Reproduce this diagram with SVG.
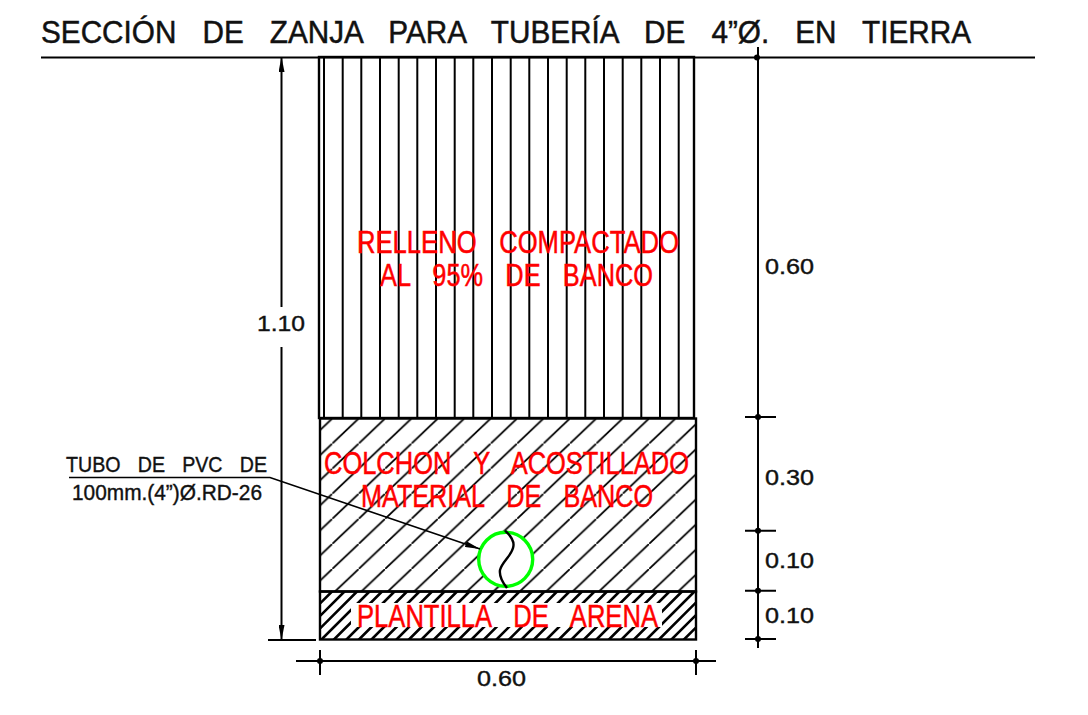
<svg xmlns="http://www.w3.org/2000/svg" width="1088" height="715" viewBox="0 0 1088 715">
<style>
text{font-family:"Liberation Sans",Arial,sans-serif;word-spacing:.6em}
.t{fill:#111;font-size:32px;stroke:#111;stroke-width:.5px}
.r{fill:#f00;font-size:32px;stroke:#f00;stroke-width:.5px}
.d{fill:#111;font-size:22px;stroke:#111;stroke-width:.4px}
.l{fill:#111;font-size:22px;stroke:#111;stroke-width:.4px}
.k{stroke:#000;fill:none;stroke-width:2}
.b{stroke:#000;fill:none;stroke-width:2.4}
.dot{fill:#000}
</style>
<defs>
<pattern id="hatchA" patternUnits="userSpaceOnUse" x="305.9" y="418.5" width="26.4" height="25.08">
<path d="M-1 26.03L27.4-.95" stroke="#000" stroke-width="1.8" fill="none"/>
</pattern>
<clipPath id="clipB"><rect x="320" y="591.5" width="376" height="48"/></clipPath>
<marker id="ah" viewBox="0 0 15 6" refX="15" refY="3" markerWidth="15" markerHeight="6" markerUnits="userSpaceOnUse" orient="auto-start-reverse">
<path d="M0 0L15 3L0 6Z" fill="#000"/>
</marker>
</defs>
<rect width="1088" height="715" fill="#fff"/>
<g id="relleno">
<rect x="319" y="57" width="375" height="361" class="b"/>
<path class="k" d="M324 57V418M342.7 57V418M361.3 57V418M380 57V418M398.7 57V418M417.3 57V418M436 57V418M454.7 57V418M473.3 57V418M492 57V418M510.7 57V418M529.3 57V418M548 57V418M566.7 57V418M585.3 57V418M604 57V418M622.7 57V418M641.3 57V418M660 57V418M678.7 57V418"/>
<text class="r" x="357" y="253" textLength="322" lengthAdjust="spacingAndGlyphs">RELLENO COMPACTADO</text>
<text class="r" x="380" y="286" textLength="273" lengthAdjust="spacingAndGlyphs">AL 95% DE BANCO</text>
</g>
<g id="colchon">
<rect x="320" y="418.5" width="376" height="173" fill="url(#hatchA)"/>
<rect x="320" y="418.5" width="376" height="173" class="b"/>
<text class="r" transform="translate(324 474) scale(.79 1)" textLength="462" lengthAdjust="spacingAndGlyphs">COLCHON Y ACOSTILLADO</text>
<text class="r" x="361" y="507" textLength="292" lengthAdjust="spacingAndGlyphs">MATERIAL DE BANCO</text>
</g>
<g id="plantilla">
<g clip-path="url(#clipB)">
<path stroke="#000" stroke-width="2.6" fill="none" d="M271 640l49-49M283.5 640l49-49M296 640l49-49M308.5 640l49-49M321 640l49-49M333.5 640l49-49M346 640l49-49M358.5 640l49-49M371 640l49-49M383.5 640l49-49M396 640l49-49M408.5 640l49-49M421 640l49-49M433.5 640l49-49M446 640l49-49M458.5 640l49-49M471 640l49-49M483.5 640l49-49M496 640l49-49M508.5 640l49-49M521 640l49-49M533.5 640l49-49M546 640l49-49M558.5 640l49-49M571 640l49-49M583.5 640l49-49M596 640l49-49M608.5 640l49-49M621 640l49-49M633.5 640l49-49M646 640l49-49M658.5 640l49-49M671 640l49-49M683.5 640l49-49"/>
</g>
<rect x="351" y="603" width="311" height="24" fill="#fff"/>
<rect x="320" y="591.5" width="376" height="48" class="b"/>
<text class="r" x="357" y="627" textLength="301" lengthAdjust="spacingAndGlyphs">PLANTILLA DE ARENA</text>
</g>
<g id="tubo">
<circle cx="505.7" cy="559.3" r="27" fill="#fff" stroke="#00ff00" stroke-width="3.4"/>
<path d="M505 530.7C511 536 515 542 513 548C511 556 502 562 500 570C499 577 503 583 507 588" fill="none" stroke="#000" stroke-width="2.4"/>
</g>
<g id="titulo">
<text class="t" x="41" y="43" textLength="930" lengthAdjust="spacingAndGlyphs">SECCIÓN DE ZANJA PARA TUBERÍA DE 4”Ø. EN TIERRA</text>
</g>
<g id="cotas-texto">
<text class="d" x="765" y="274" textLength="49" lengthAdjust="spacingAndGlyphs">0.60</text>
<text class="d" x="765" y="485" textLength="49" lengthAdjust="spacingAndGlyphs">0.30</text>
<text class="d" x="765" y="568" textLength="49" lengthAdjust="spacingAndGlyphs">0.10</text>
<text class="d" x="765" y="623" textLength="49" lengthAdjust="spacingAndGlyphs">0.10</text>
<text class="d" x="257" y="331" textLength="48" lengthAdjust="spacingAndGlyphs">1.10</text>
<text class="d" x="477" y="686" textLength="49" lengthAdjust="spacingAndGlyphs">0.60</text>
</g>
<g id="leyenda">
<text class="l" x="66" y="472" textLength="201" lengthAdjust="spacingAndGlyphs">TUBO DE PVC DE</text>
<text class="l" x="72" y="500" textLength="190" lengthAdjust="spacingAndGlyphs">100mm.(4”)Ø.RD-26</text>
</g>
<g id="conectores">
<path class="k" d="M41 57.5H1035"/>
<path class="k" d="M281.5 57V307" marker-start="url(#ah)"/>
<path class="k" d="M281.5 347V640" marker-end="url(#ah)"/>
<path class="k" d="M268 640H316"/>
<path class="k" d="M758 47V648M745 417H776M745 530.7H776M745 590.7H776M745 639H776"/>
<path class="k" d="M296 661H716M320 650V675M696 650V675"/>
<path d="M69 477.5H270L480 549" stroke="#000" fill="none" stroke-width="1.6" marker-end="url(#ah)"/>
<g class="dot">
<circle cx="757" cy="57.5" r="3"/><circle cx="758" cy="417" r="3"/><circle cx="758" cy="530.7" r="3"/><circle cx="758" cy="590.7" r="3"/><circle cx="758" cy="639" r="3"/><circle cx="320" cy="661" r="3"/><circle cx="696" cy="661" r="3"/>
</g>
</g>
</svg>
